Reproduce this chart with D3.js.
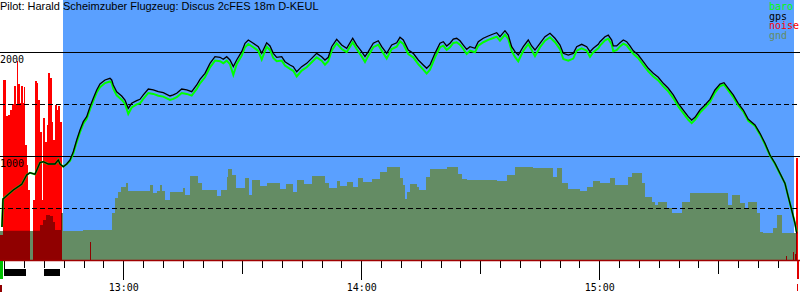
<!DOCTYPE html>
<html><head><meta charset="utf-8">
<script src="https://cdn.jsdelivr.net/npm/d3@7"></script>
<style>
body{margin:0;background:#fff;}
svg{display:block;}
.mono{font-family:"DejaVu Sans Mono",monospace;font-size:10px;}
</style></head>
<body><svg id="c" width="800" height="300"></svg>
<script>
// ---- data (time = minutes after 12:00, altitude in m) ----
const title = "Pilot: Harald Scheimzuber Flugzeug: Discus 2cFES 18m D-KEUL";
const legendItems = ["baro", "gps", "noise", "gnd"];
const legendColors = ["#00ff00", "#000000", "#ff0000", "#648c64"];
const gridValues = [500, 1000, 1500, 2000];
const gridLabels = [1000, 2000];
const hourTicks = [60, 120, 180];
const hourLabels = ["13:00", "14:00", "15:00"];
const flightWindow = [44.80, 229.09];
const engineRuns = [[29.93, 35.47], [40.01, 44.05]];

const times = [29.42,29.68,32.27,34.39,35.65,36.48,37.74,39.00,39.84,41.10,
42.79,43.62,44.05,44.88,45.74,46.57,47.40,48.26,49.09,49.92,
50.78,51.61,52.44,53.30,54.13,55.39,56.65,57.08,57.48,58.34,
59.60,60.43,61.26,62.12,63.38,64.21,65.05,66.31,67.57,68.83,
70.09,71.78,72.61,73.47,74.73,75.99,77.25,78.51,79.34,80.60,
81.86,83.12,84.38,85.21,86.07,86.90,87.74,88.59,89.85,90.69,
91.52,92.78,94.04,94.90,96.15,96.99,97.82,98.68,99.94,100.77,
102.03,102.86,103.72,104.98,106.24,107.50,108.76,110.02,110.85,111.68,
112.54,113.80,115.06,116.32,117.84,118.84,120.10,120.94,121.77,123.03,
124.29,125.15,126.41,127.67,128.93,129.76,130.60,131.86,133.11,134.37,
135.63,136.49,137.32,138.58,139.84,140.68,141.53,142.37,143.20,144.05,
144.89,145.72,146.58,147.41,148.67,149.50,150.76,152.02,153.28,154.14,
154.97,156.23,157.06,157.92,158.75,159.58,160.84,162.10,162.96,163.79,
165.05,166.31,167.58,168.84,170.10,170.93,172.19,173.45,174.31,175.57,
176.83,177.66,178.49,179.75,180.18,181.44,182.27,183.13,183.53,184.39,
185.22,186.06,186.91,187.74,188.58,189.84,191.10,192.36,193.62,194.88,
196.14,197.40,198.66,199.92,201.18,202.44,203.30,204.13,205.39,206.65,
207.91,209.17,210.43,211.44,212.52,213.78,215.04,216.31,217.57,219.26,
220.52,221.78,223.04,224.30,225.56,226.82,227.65,228.51,229.34,229.77];

const gps = [317,587,673,728,817,839,824,936,945,923,
923,962,923,897,923,962,1041,1154,1250,1330,
1378,1474,1555,1635,1692,1731,1747,1731,1683,1618,
1577,1538,1459,1507,1532,1545,1587,1644,1635,1618,
1609,1577,1587,1603,1644,1635,1618,1683,1737,1795,
1891,1955,1949,1930,1955,1923,1859,1923,2003,2084,
2115,2084,2051,1987,2089,2058,1987,1949,1955,1907,
1875,1859,1810,1859,1891,1939,1987,1955,1923,1949,
2051,2122,2067,2036,2132,2067,2003,1955,2003,2084,
2108,2051,1987,2067,2089,2141,2115,2019,1987,1923,
1875,1843,1875,1987,2084,2099,2058,2084,2125,2132,
2108,2067,2026,2051,2036,2099,2132,2154,2173,2186,
2147,2205,2163,2051,2003,1971,2051,2115,2058,2019,
2084,2147,2180,2132,2067,1987,1971,1987,2051,2074,
2051,2003,2036,2074,2099,2147,2163,2115,2058,2058,
2089,2115,2099,2058,2012,1971,1907,1843,1795,1757,
1699,1651,1587,1507,1442,1378,1346,1372,1442,1490,
1545,1635,1692,1705,1651,1587,1507,1442,1353,1298,
1218,1122,1010,930,834,737,609,481,353,257];

const baro = [317,587,673,728,817,839,824,936,945,923,
923,962,923,897,923,952,1026,1134,1230,1310,
1358,1449,1530,1610,1662,1701,1717,1701,1648,1583,
1542,1503,1404,1467,1497,1507,1549,1606,1597,1580,
1571,1539,1549,1565,1606,1597,1580,1645,1699,1757,
1853,1917,1911,1892,1917,1883,1779,1883,1965,2046,
2077,2046,2011,1927,2051,2020,1942,1911,1917,1869,
1837,1819,1765,1821,1853,1901,1949,1917,1878,1911,
2013,2084,2029,1998,2094,2029,1958,1905,1963,2046,
2070,2013,1937,2029,2051,2103,2077,1981,1949,1883,
1830,1793,1830,1949,2046,2061,2020,2046,2087,2094,
2070,2029,1981,2013,1998,2061,2094,2116,2135,2148,
2109,2167,2125,2011,1953,1911,2011,2077,2018,1959,
2046,2109,2142,2094,2027,1932,1916,1937,2013,2036,
2013,1953,1998,2036,2061,2112,2128,2075,2008,2018,
2054,2080,2064,2023,1982,1941,1877,1813,1765,1727,
1669,1621,1557,1477,1412,1348,1316,1347,1417,1465,
1520,1610,1672,1685,1631,1567,1487,1427,1338,1288,
1208,1112,1005,925,829,737,609,481,353,272];

const gndTimes = [28.92,39.00,39.76,40.52,41.53,42.28,42.79,44.30,44.88,49.84,
57.16,57.91,58.67,59.42,60.68,61.26,66.74,67.57,68.42,69.26,
69.68,70.52,71.78,75.13,75.56,76.82,78.91,79.77,83.55,84.63,
86.07,86.47,87.33,88.34,90.69,91.69,92.37,94.47,96.15,99.51,
101.02,102.86,103.72,105.56,107.50,110.85,111.86,113.80,114.63,116.32,
117.91,119.17,120.43,122.62,124.72,126.41,129.76,130.52,131.02,131.53,
132.28,133.97,134.55,136.31,137.32,141.53,144.46,145.31,146.57,154.14,
156.66,158.75,163.29,165.05,168.41,169.26,170.60,172.19,175.14,176.83,
178.34,180.18,182.70,183.96,187.31,188.17,190.69,191.52,193.21,194.05,
194.88,197.00,198.26,200.78,202.87,212.53,213.39,215.47,216.74,217.57,
219.69,220.52,221.35,223.80,224.73,225.99,229.85];
const gnd = [282,337,385,433,423,365,288,452,279,288,
452,596,657,705,737,663,721,644,666,721,
666,577,657,692,625,811,740,673,618,673,
801,872,817,695,791,625,769,714,743,683,
728,657,769,731,808,737,695,760,714,747,
705,786,747,779,849,891,786,721,587,657,
731,705,673,795,875,897,827,776,769,760,
817,897,882,888,801,882,737,683,666,705,
760,737,786,721,801,834,737,609,561,529,
561,497,449,561,641,529,625,545,497,561,
449,272,257,305,433,257,257];

const noiseTimes = [28.92,29.75,30.43,30.94,31.44,31.95,32.45,32.83,33.08,33.46,
33.84,34.21,34.72,34.97,35.22,35.73,36.10,36.48,37.31,37.74,
38.17,38.58,39.00,39.43,39.84,40.26,40.69,41.10,41.53,41.95,
42.36,42.79,43.21,43.62,44.05,44.47,51.61,51.86,227.07,227.45,
228.84,229.09,229.34,229.59,229.72,230.10];
const noise = [120,865,692,697,721,750,837,750,957,846,
755,837,755,832,553,457,337,0,288,861,
851,769,615,288,683,567,649,899,875,663,
577,745,721,740,663,0,87,0,19,0,
38,0,29,0,490,0];

// ---- drawing ----
const svg = d3.select("#c");
const x = d3.scaleLinear().domain([28.92, 229.85]).range([0, 797]);
const y = d3.scaleLinear().domain([0, 2000]).range([260, 52]);
const yN = d3.scaleLinear().domain([0, 1000]).range([260, 52]);

// flight window background
svg.append("rect").attr("x", x(flightWindow[0])).attr("y", 0)
  .attr("width", x(flightWindow[1]) - x(flightWindow[0])).attr("height", y(0))
  .attr("fill", "#5aa0ff").attr("shape-rendering", "crispEdges");

const gData = gndTimes.map((t, i) => ({t, v: gnd[i]}));
const gArea = d3.area().curve(d3.curveStepAfter).x(d => x(d.t)).y0(y(0)).y1(d => y(d.v));
svg.append("clipPath").attr("id", "gclip").append("path").attr("d", gArea(gData));
svg.append("path").attr("d", gArea(gData)).attr("fill", "#648c64").attr("shape-rendering", "crispEdges");

const nData = noiseTimes.map((t, i) => ({t, v: noise[i]}));
const nArea = d3.area().curve(d3.curveStepAfter).x(d => x(d.t)).y0(yN(0)).y1(d => yN(d.v));
svg.append("path").attr("d", nArea(nData)).attr("fill", "#ff0000").attr("shape-rendering", "crispEdges");
svg.append("path").attr("d", nArea(nData)).attr("fill", "#900000").attr("clip-path", "url(#gclip)")
  .attr("shape-rendering", "crispEdges");

// grid
svg.selectAll(".grid").data(gridValues).join("line").attr("class", "grid")
  .attr("x1", 0).attr("x2", 800)
  .attr("y1", d => Math.round(y(d)) + 0.5).attr("y2", d => Math.round(y(d)) + 0.5)
  .attr("stroke", "#000").attr("stroke-width", 1).attr("shape-rendering", "crispEdges")
  .attr("stroke-dasharray", d => d % 1000 === 0 ? null : "5,3");
svg.selectAll(".glab").data(gridLabels).join("text").attr("class", "glab mono")
  .attr("x", 0).attr("y", d => y(d) + 11).attr("fill", "#000").text(d => d);

// curves
const line = arr => d3.line().x((t, i) => x(t)).y((t, i) => y(arr[i]));
svg.append("path").attr("d", line(baro)(times)).attr("fill", "none")
  .attr("stroke", "#00ff00").attr("stroke-width", 2);
svg.append("path").attr("d", line(gps)(times)).attr("fill", "none")
  .attr("stroke", "#000").attr("stroke-width", 1.3);

// time axis
const minor = d3.range(30, 230, 5);
const axG = svg.append("g").attr("transform", "translate(0,260.5)").attr("shape-rendering", "crispEdges");
axG.append("g").call(d3.axisBottom(x).tickValues(minor.filter(m => m % 30 !== 0)).tickSize(7).tickSizeOuter(0).tickFormat(""));
axG.append("g").call(d3.axisBottom(x).tickValues(minor.filter(m => m % 30 === 0 && m % 60 !== 0)).tickSize(13).tickSizeOuter(0).tickFormat(""));
axG.append("g").call(d3.axisBottom(x).tickValues(hourTicks).tickSize(19).tickSizeOuter(0).tickPadding(4)
  .tickFormat((d, i) => hourLabels[i]));
axG.selectAll(".domain").attr("stroke", "none");
axG.selectAll(".tick line").attr("stroke", "#000");
axG.selectAll(".tick text").attr("class", "mono").attr("fill", "#000").attr("font-size", null).attr("font-family", null);
svg.append("line").attr("x1", 0).attr("x2", 800).attr("y1", 260.5).attr("y2", 260.5)
  .attr("stroke", "#a00000").attr("stroke-width", 1.5);

// engine / takeoff / landing markers
svg.append("rect").attr("x", 0).attr("y", 261).attr("width", 3).attr("height", 18).attr("fill", "#00c000");
svg.append("rect").attr("x", 0).attr("y", 285).attr("width", 2).attr("height", 7).attr("fill", "#900000");
svg.selectAll(".eng").data(engineRuns).join("rect").attr("class", "eng")
  .attr("x", d => x(d[0])).attr("width", d => x(d[1]) - x(d[0]))
  .attr("y", 269).attr("height", 7).attr("fill", "#000").attr("shape-rendering", "crispEdges");
svg.append("rect").attr("x", 797).attr("y", 261).attr("width", 2).attr("height", 18).attr("fill", "#e00000");
svg.append("rect").attr("x", 797).attr("y", 284).attr("width", 1).attr("height", 7).attr("fill", "#e00000");

// title & legend
svg.append("text").attr("x", 0).attr("y", 10).attr("font-family", "Liberation Sans, Arial, sans-serif")
  .attr("font-size", 11).attr("fill", "#000").text(title);
svg.selectAll(".leg").data(legendItems).join("text").attr("class", "leg mono")
  .attr("x", 769).attr("y", (d, i) => 10 + i * 9.7).attr("fill", (d, i) => legendColors[i]).text(d => d);
</script></body></html>
